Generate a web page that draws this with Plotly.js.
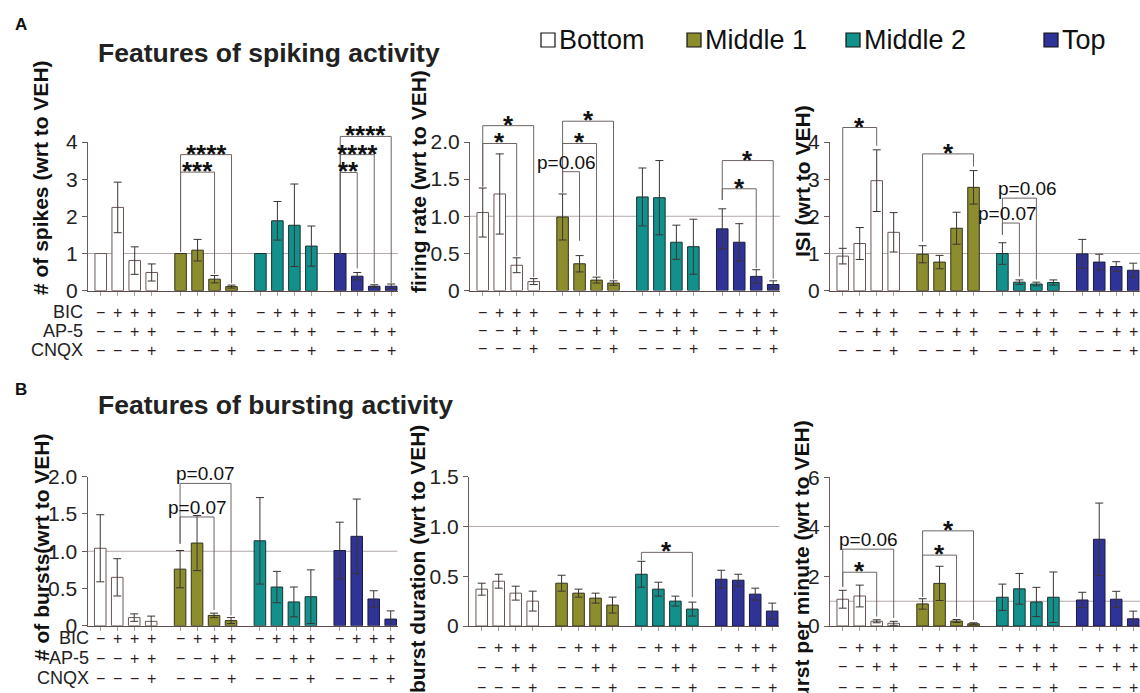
<!DOCTYPE html>
<html><head><meta charset="utf-8">
<script src="https://cdn.plot.ly/plotly-3.0.1.min.js"></script>
<style>html,body{margin:0;padding:0;background:#fff}#chart{width:1140px;height:693px}</style>
</head><body><div id="chart"></div>
<script>
// ---------- DATA ----------
const regions = ['Bottom', 'Middle 1', 'Middle 2', 'Top'];
const treatments = ['BIC', 'AP-5', 'CNQX'];
const BIC  = ['−', '+', '+', '+'];
const AP5  = ['−', '−', '+', '+'];
const CNQX = ['−', '−', '−', '+'];

const spikesMean   = [1, 2.24, 0.81, 0.49,  1, 1.09, 0.31, 0.11,  1, 1.88, 1.76, 1.20,  1, 0.39, 0.12, 0.12];
const spikesErr    = [NaN, 0.68, 0.37, 0.23,  NaN, 0.29, 0.10, 0.04,  NaN, 0.52, 1.11, 0.54,  NaN, 0.10, 0.04, 0.06];
const firingMean   = [1.05, 1.30, 0.34, 0.12,  0.99, 0.36, 0.14, 0.10,  1.26, 1.25, 0.65, 0.59,  0.83, 0.65, 0.19, 0.08];
const firingErr    = [0.33, 0.54, 0.10, 0.04,  0.31, 0.11, 0.04, 0.03,  0.39, 0.50, 0.23, 0.37,  0.27, 0.25, 0.09, 0.05];
const isiMean      = [0.93, 1.27, 2.96, 1.57,  0.98, 0.77, 1.68, 2.78,  1.00, 0.23, 0.18, 0.22,  0.99, 0.77, 0.65, 0.55];
const isiErr       = [0.21, 0.43, 0.83, 0.53,  0.23, 0.18, 0.43, 0.45,  0.29, 0.06, 0.05, 0.07,  0.39, 0.21, 0.13, 0.19];
const burstsMean   = [1.04, 0.65, 0.11, 0.06,  0.76, 1.11, 0.14, 0.07,  1.14, 0.52, 0.32, 0.39,  1.01, 1.20, 0.36, 0.09];
const burstsErr    = [0.45, 0.25, 0.05, 0.07,  0.25, 0.37, 0.03, 0.04,  0.58, 0.21, 0.20, 0.36,  0.38, 0.50, 0.11, 0.11];
const durationMean = [0.37, 0.45, 0.33, 0.25,  0.43, 0.33, 0.28, 0.21,  0.52, 0.37, 0.25, 0.17,  0.47, 0.46, 0.32, 0.15];
const durationErr  = [0.06, 0.07, 0.07, 0.10,  0.08, 0.04, 0.05, 0.08,  0.13, 0.07, 0.05, 0.07,  0.09, 0.06, 0.06, 0.08];
const bpmMean      = [1.08, 1.21, 0.19, 0.11,  0.89, 1.72, 0.20, 0.09,  1.16, 1.50, 0.97, 1.16,  1.05, 3.50, 1.08, 0.29];
const bpmErr       = [0.36, 0.44, 0.06, 0.08,  0.21, 0.69, 0.06, 0.04,  0.53, 0.62, 0.59, 1.02,  0.31, 1.46, 0.32, 0.31];

const yTitles = ['# of spikes (wrt to VEH)', 'firing rate (wrt to VEH)', 'ISI (wrt to VEH)',
                 '# of bursts(wrt to VEH)', 'burst duration (wrt to VEH)', 'burst per minute (wrt to VEH)'];
const ticksInt4 = [0, 1, 2, 3, 4];      const labelsInt4 = ['0', '1', '2', '3', '4'];
const ticksHalf2 = [0, 0.5, 1, 1.5, 2]; const labelsHalf2 = ['0', '0.5', '1.0', '1.5', '2.0'];
const ticksHalf15 = [0, 0.5, 1, 1.5];   const labelsHalf15 = ['0', '0.5', '1.0', '1.5'];
const ticksBpm = [0, 2, 4, 6];          const labelsBpm = ['0', '2', '4', '6'];

// significance brackets: [panel, group, fromBar, toBar, bracketY, leftFootY, rightFootY, label, labelShiftPx]
const brackets = [
  [0, 1, 0, 2, 3.19, 1.05, 0.45, '***', 0],
  [0, 1, 0, 3, 3.66, 1.05, 0.20, '****', 0],
  [0, 3, 0, 1, 3.18, 1.00, 0.60, '**', 0],
  [0, 3, 0, 2, 3.66, 1.00, 0.20, '****', 0],
  [0, 3, 0, 3, 4.15, 1.00, 0.20, '****', 0],
  [1, 0, 0, 2, 1.98, 1.40, 0.46, '*', 0],
  [1, 0, 0, 3, 2.22, 1.40, 0.18, '*', 0],
  [1, 1, 0, 1, 1.60, 1.32, 0.67, 'p=0.06', -5],
  [1, 1, 0, 2, 1.98, 1.32, 0.20, '*', 0],
  [1, 1, 0, 3, 2.28, 1.32, 0.15, '*', 0],
  [1, 3, 0, 2, 1.37, 1.22, 0.30, '*', 0],
  [1, 3, 0, 3, 1.75, 1.22, 0.16, '*', 0],
  [2, 0, 0, 2, 4.39, 1.15, 3.90, '*', 0],
  [2, 1, 0, 3, 3.68, 1.32, 3.34, '*', 0],
  [2, 2, 0, 1, 1.82, 1.50, 0.38, 'p=0.07', -3],
  [2, 2, 0, 2, 2.49, 1.50, 0.30, 'p=0.06', 8],
  [3, 1, 0, 2, 1.46, 1.10, 0.21, 'p=0.07', 0],
  [3, 1, 0, 3, 1.91, 1.10, 0.14, 'p=0.07', 0],
  [4, 2, 0, 3, 0.74, 0.66, 0.29, '*', 0],
  [5, 0, 0, 2, 2.17, 1.58, 0.38, '*', 0],
  [5, 0, 0, 3, 3.10, 1.58, 0.32, 'p=0.06', 0],
  [5, 1, 0, 2, 2.86, 1.18, 0.37, '*', 0],
  [5, 1, 0, 3, 3.84, 1.18, 0.25, '*', 0]
];

// ---------- STYLE / LAYOUT ----------
const FONT = "'Liberation Sans', Arial, sans-serif";
const W = 1140, H = 693;
const fx = px => px / W;
const fy = py => 1 - py / H;
const regionColors = ['#ffffff', '#8c8e2e', '#12908b', '#2f3395'];
const regionLines  = ['#6b5656', '#33331c', '#173331', '#1b1c44'];
const GROUP_STEP = 4.7;
const xpos = (g, i) => g * GROUP_STEP + i;

const panels = [
  {mean: spikesMean,   err: spikesErr,   tv: ticksInt4,   tt: labelsInt4,   range: [0, 4],   xd: [88, 398],  yd: [142, 290.7], tx: 40,  ty: 178, sy: [312, 331, 350], rowLabelX: 85},
  {mean: firingMean,   err: firingErr,   tv: ticksHalf2,  tt: labelsHalf2,  range: [0, 2],   xd: [470, 780], yd: [142, 290.5], tx: 418, ty: 181, sy: [312, 330, 348]},
  {mean: isiMean,      err: isiErr,      tv: ticksInt4,   tt: labelsInt4,   range: [0, 4],   xd: [830, 1140], yd: [142, 290.7], tx: 802, ty: 181, sy: [312, 331, 351]},
  {mean: burstsMean,   err: burstsErr,   tv: ticksHalf2,  tt: labelsHalf2,  range: [0, 2],   xd: [87.5, 397.5], yd: [476.7, 625.8], tx: 41, ty: 547, sy: [638, 658, 678], rowLabelX: 91},
  {mean: durationMean, err: durationErr, tv: ticksHalf15, tt: labelsHalf15, range: [0, 1.5], xd: [469, 779], yd: [476.7, 626], tx: 417, ty: 559, sy: [647, 667, 687]},
  {mean: bpmMean,      err: bpmErr,      tv: ticksBpm,    tt: labelsBpm,    range: [0, 6],   xd: [830, 1140], yd: [477.3, 626], tx: 801, ty: 566, sy: [647, 666, 687]}
];
const signRows = [BIC, AP5, CNQX];
// paper position of a value on panel k's y scale (for annotations drawn above the axis range)
const yPaper = (k, v) => {
  const p = panels[k];
  const d0 = fy(p.yd[1]), d1 = fy(p.yd[0]);
  return d0 + (v - p.range[0]) / (p.range[1] - p.range[0]) * (d1 - d0);
};

const data = [];
const annotations = [];
const shapes = [];
const layout = {
  width: W, height: H, margin: {l: 0, r: 0, t: 0, b: 0},
  paper_bgcolor: '#ffffff', plot_bgcolor: 'rgba(0,0,0,0)',
  showlegend: false, barmode: 'overlay',
  font: {family: FONT, color: '#1a1a1a'}
};

panels.forEach((p, k) => {
  const s = k === 0 ? '' : String(k + 1);
  const xa = 'x' + s, ya = 'y' + s;
  const allX = [];
  for (let g = 0; g < 4; g++) {
    const xs = [0, 1, 2, 3].map(i => xpos(g, i));
    allX.push(...xs);
    data.push({
      type: 'bar', name: regions[g], x: xs, y: p.mean.slice(4 * g, 4 * g + 4), width: 0.68,
      xaxis: xa, yaxis: ya, hoverinfo: 'skip',
      marker: {color: regionColors[g], line: {color: regionLines[g], width: 1}},
      error_y: {type: 'data', array: p.err.slice(4 * g, 4 * g + 4), visible: true, color: '#3d3333', thickness: 1, width: 4}
    });
  }
  layout['xaxis' + s] = {
    domain: [fx(p.xd[0]), fx(p.xd[1])], anchor: ya, range: [-0.75, 17.5],
    tickvals: allX, showticklabels: false, ticks: 'outside', ticklen: 4, tickcolor: '#a8a0a0',
    showline: true, linecolor: '#5b4b4b', linewidth: 1, showgrid: false, zeroline: false, fixedrange: true
  };
  layout['yaxis' + s] = {
    domain: [fy(p.yd[1]), fy(p.yd[0])], anchor: xa, range: p.range,
    tickvals: p.tv, ticktext: p.tt, ticks: 'outside', ticklen: 5, tickcolor: '#6b5a5a',
    tickfont: {size: 21, color: '#222'},
    showline: true, linecolor: '#6b5a5a', linewidth: 1, showgrid: false, zeroline: false, fixedrange: true
  };
  // reference line at 1
  shapes.push({type: 'line', xref: xa + ' domain', x0: 0, x1: 1, yref: ya, y0: 1, y1: 1,
               line: {color: '#b3a8a8', width: 1}, layer: 'below'});
  // y title
  annotations.push({text: '<b>' + yTitles[k] + '</b>', xref: 'paper', yref: 'paper',
    x: fx(p.tx), y: fy(p.ty), textangle: -90, showarrow: false, xanchor: 'center', yanchor: 'middle',
    font: {size: 21, color: '#111'}});
  // treatment sign rows
  signRows.forEach((row, r) => {
    for (let g = 0; g < 4; g++) for (let i = 0; i < 4; i++) {
      annotations.push({text: row[i], xref: xa, yref: 'paper', x: xpos(g, i), y: fy(p.sy[r]),
        showarrow: false, xanchor: 'center', yanchor: 'middle', font: {size: 16, color: '#2e1e1e'}});
    }
    if (p.rowLabelX) {
      annotations.push({text: treatments[r], xref: 'paper', yref: 'paper', x: fx(p.rowLabelX), y: fy(p.sy[r]),
        showarrow: false, xanchor: 'right', yanchor: 'middle', font: {size: 18, color: '#222'}});
    }
  });
});

// brackets
brackets.forEach(b => {
  const [k, g, i0, i1, yt, yl, yr, label, shift] = b;
  const s = k === 0 ? '' : String(k + 1);
  const x0 = xpos(g, i0), x1 = xpos(g, i1);
  const pt = yPaper(k, yt), pl = yPaper(k, yl), pr = yPaper(k, yr);
  shapes.push({type: 'path', xref: 'x' + s, yref: 'paper',
    path: `M ${x0},${pl} L ${x0},${pt} L ${x1},${pt} L ${x1},${pr}`,
    line: {color: '#6e6464', width: 1}, layer: 'above'});
  const isStar = label.indexOf('*') === 0;
  annotations.push({text: isStar ? '<b>' + label + '</b>' : label, xref: 'x' + s, yref: 'paper',
    x: (x0 + x1) / 2, y: pt, xshift: shift, showarrow: false, xanchor: 'center',
    yanchor: isStar ? 'middle' : 'bottom', yshift: isStar ? 1 : -3,
    font: {size: isStar ? 26 : 19, color: '#111'}});
});

// panel letters and titles
annotations.push({text: '<b>A</b>', xref: 'paper', yref: 'paper', x: fx(13), y: fy(24), xanchor: 'left', yanchor: 'middle', showarrow: false, font: {size: 17, color: '#111'}});
annotations.push({text: '<b>B</b>', xref: 'paper', yref: 'paper', x: fx(13), y: fy(389), xanchor: 'left', yanchor: 'middle', showarrow: false, font: {size: 17, color: '#111'}});
annotations.push({text: '<b>Features of spiking activity</b>', xref: 'paper', yref: 'paper', x: fx(96), y: fy(53), xanchor: 'left', yanchor: 'middle', showarrow: false, font: {size: 26.5, color: '#222'}});
annotations.push({text: '<b>Features of bursting activity</b>', xref: 'paper', yref: 'paper', x: fx(96), y: fy(405), xanchor: 'left', yanchor: 'middle', showarrow: false, font: {size: 26.5, color: '#222'}});

// legend (drawn as key squares + labels)
const legendBoxX = [541, 687, 846, 1044];
regions.forEach((r, g) => {
  const x0 = legendBoxX[g];
  shapes.push({type: 'rect', xref: 'paper', yref: 'paper', x0: fx(x0), x1: fx(x0 + 14), y0: fy(47), y1: fy(33),
    fillcolor: regionColors[g], line: {color: '#111', width: 1.2}});
  annotations.push({text: r, xref: 'paper', yref: 'paper', x: fx(x0 + 16), y: fy(40), xanchor: 'left', yanchor: 'middle',
    showarrow: false, font: {size: 27, color: '#111'}});
});

layout.shapes = shapes;
layout.annotations = annotations;
Plotly.newPlot('chart', data, layout, {staticPlot: true, displayModeBar: false});
</script>
</body></html>
